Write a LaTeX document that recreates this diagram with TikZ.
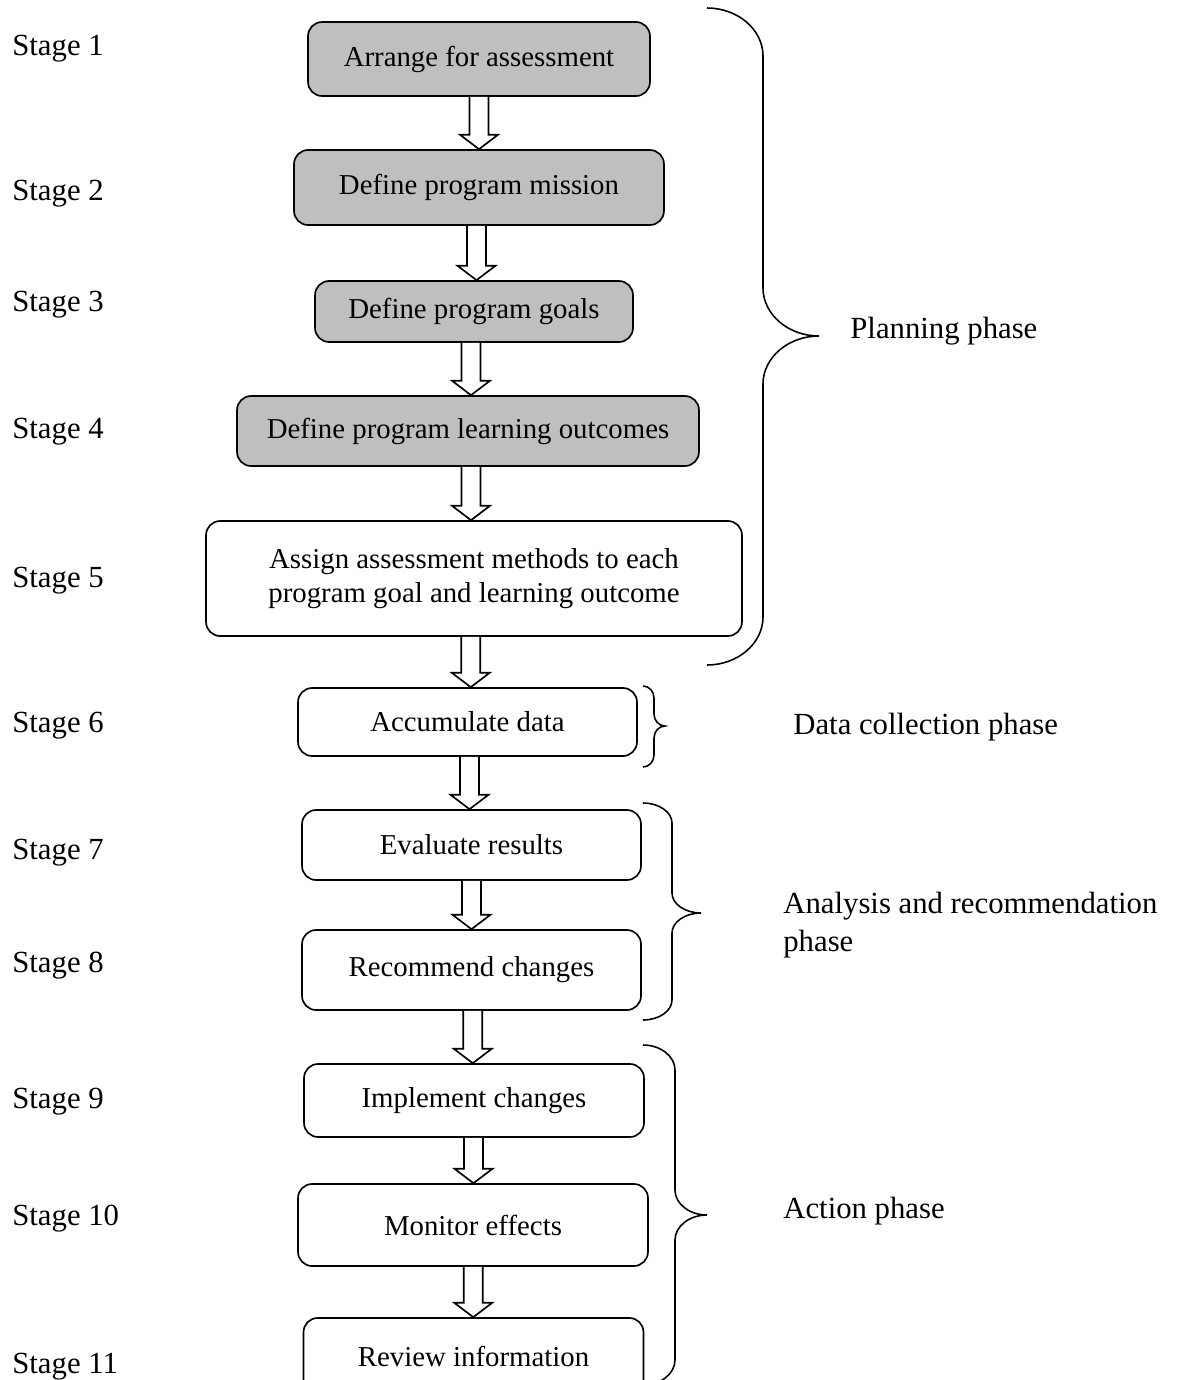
\documentclass[tikz,border=0pt]{standalone}
\usepackage{fontspec}
\setmainfont{Liberation Serif}
\usetikzlibrary{calc}

% hollow block arrow between two stage boxes
\newcommand{\stagearrow}[2]{%
  \draw[hollow] let \p1=(#1.south), \p2=(#2.north), \p3=($(#1.south)!0.5!(#2.north)$) in
    (\x3-5.4pt,\y1) -- (\x3-5.4pt,\y2+8.2pt) -- (\x3-10.8pt,\y2+8.2pt) -- (\x3,\y2)
    -- (\x3+10.8pt,\y2+8.2pt) -- (\x3+5.4pt,\y2+8.2pt) -- (\x3+5.4pt,\y1);}

% curly brace: x0, half width, end radius, top, tip, bottom
\newcommand{\phasebrace}[6]{%
  \draw[bracepath] (#1,#4) .. controls (#1+0.55*#2,#4) and (#1+#2,#4+0.45*#3) .. (#1+#2,#4+#3)
    -- (#1+#2,#5-#3) .. controls (#1+#2,#5-0.45*#3) and (#1+1.45*#2,#5) .. (#1+2*#2,#5)
    .. controls (#1+1.45*#2,#5) and (#1+#2,#5+0.45*#3) .. (#1+#2,#5+#3)
    -- (#1+#2,#6-#3) .. controls (#1+#2,#6-0.45*#3) and (#1+0.55*#2,#6) .. (#1,#6);}

\begin{document}
\begin{tikzpicture}[x=0.02cm,y=-0.02cm,
  stagebox/.style={draw,line width=0.95pt,rounded corners=8pt,align=center,
    font=\fontsize{16.4}{19.5}\selectfont},
  shaded/.style={stagebox,fill=black!25},
  hollow/.style={draw,line width=0.95pt,fill=white},
  bracepath/.style={line width=0.9pt},
  stagelabel/.style={anchor=base west,inner sep=0pt,font=\fontsize{17.5}{21.5}\selectfont},
  phaselabel/.style={stagelabel,align=left}]

\useasboundingbox (0,0) rectangle (1183,1380);

% Planning boxes
\node[shaded,minimum width=6.84cm,minimum height=1.48cm] (arrange) at (479,59) {Arrange for assessment};
\node[shaded,minimum width=7.4cm,minimum height=1.5cm] (mission) at (479,187.5) {Define program mission};
\node[shaded,minimum width=6.36cm,minimum height=1.22cm] (goals) at (474,311.5) {Define program goals};
\node[shaded,minimum width=9.24cm,minimum height=1.4cm] (outcomes) at (468,431) {Define program learning outcomes};
\node[stagebox,minimum width=10.72cm,minimum height=2.3cm] (assign) at (474,578.5)
  {Assign assessment methods to each\\program goal and learning outcome};

% Remaining boxes
\node[stagebox,minimum width=6.78cm,minimum height=1.36cm] (accumulate) at (467.5,722) {Accumulate data};
\node[stagebox,minimum width=6.78cm,minimum height=1.4cm] (evaluate) at (471.5,845) {Evaluate results};
\node[stagebox,minimum width=6.78cm,minimum height=1.6cm] (recommend) at (471.5,970) {Recommend changes};
\node[stagebox,minimum width=6.8cm,minimum height=1.46cm] (implement) at (474,1100.5) {Implement changes};
\node[stagebox,minimum width=7cm,minimum height=1.64cm] (monitor) at (473,1225) {Monitor effects};
\node[stagebox,minimum width=6.8cm,minimum height=1.52cm] (review) at (473.5,1356) {Review information};

% Arrows
\foreach \a/\b in {arrange/mission,mission/goals,goals/outcomes,outcomes/assign,
  assign/accumulate,accumulate/evaluate,evaluate/recommend,recommend/implement,
  implement/monitor,monitor/review} {
\stagearrow{\a}{\b}
}

% Stage labels
\foreach \n/\y in {1/55,2/200,3/311,4/438,5/587,6/732,7/859,8/972,9/1108,10/1225,11/1373} {
\node[stagelabel] (stage\n) at (12,\y) {Stage \n};
}

% Braces
\phasebrace{707}{56}{48}{8}{336}{665}
\phasebrace{643}{11}{12}{686}{726}{767}
\phasebrace{643}{29}{20}{803}{913}{1020}
\phasebrace{643}{32}{25}{1045}{1215}{1385}

% Phase labels
\node[phaselabel] (planning) at (850,338) {Planning phase};
\node[phaselabel] (datacoll) at (793,734) {Data collection phase};
\node[phaselabel,anchor=north west] (analysis) at (783,892) {Analysis and recommendation\\phase};
\node[phaselabel] (action) at (783,1218) {Action phase};

\end{tikzpicture}
\end{document}
